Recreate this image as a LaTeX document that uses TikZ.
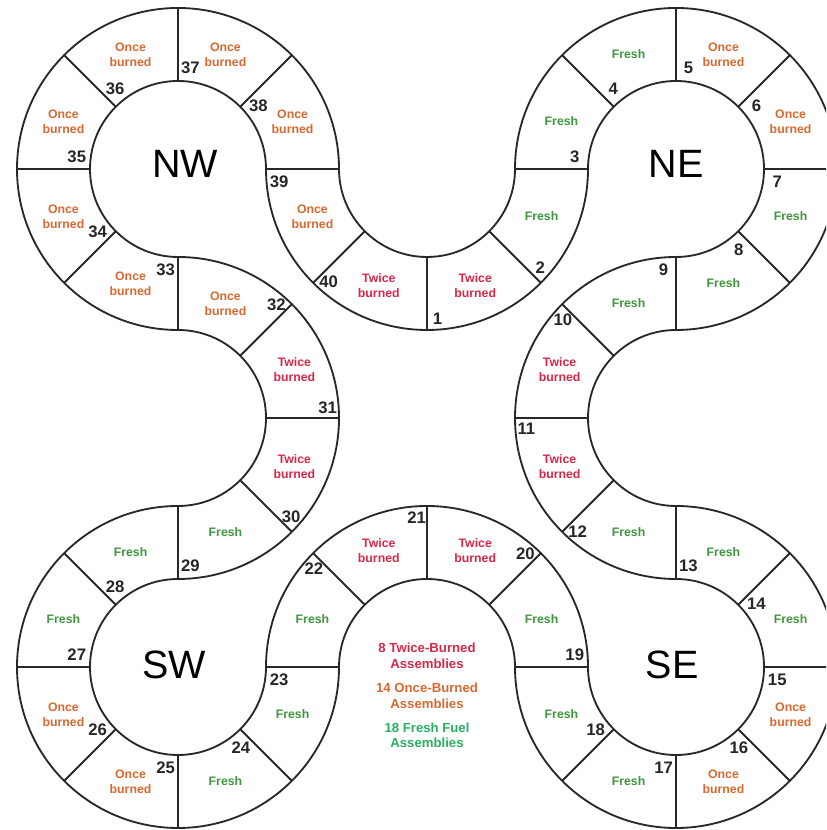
\documentclass[tikz,border=0pt]{standalone}
\usepackage{fontspec}
\setmainfont{Liberation Sans}
\usepackage{xcolor}
\usetikzlibrary{positioning}

\definecolor{twicecol}{RGB}{214,40,72}
\definecolor{oncecol}{RGB}{217,104,48}
\definecolor{freshcol}{RGB}{62,150,62}
\definecolor{legfresh}{RGB}{40,175,95}
\definecolor{ringline}{RGB}{40,40,40}

\def\rin{88}
\def\rout{161}

\begin{document}
\begin{tikzpicture}[x=0.02cm, y=0.02cm, line width=1.05pt,
    ring/.style={draw=ringline},
    tag/.style={font=\fontsize{9.5}{10}\selectfont\bfseries, text=black!85, inner sep=0pt},
    fuel/.style={font=\fontsize{7}{8.5}\selectfont\bfseries, align=center, inner sep=0pt},
    twicetxt/.style={fuel, text=twicecol},
    oncetxt/.style={fuel, text=oncecol},
    freshtxt/.style={fuel, text=freshcol},
    region/.style={font=\fontsize{22.5}{24}\selectfont, inner sep=0pt},
    legend/.style={font=\fontsize{7.5}{9}\selectfont\bfseries, align=center, inner sep=0pt}]

    \clip (0,0) rectangle (826,830);

    % ===================================================
    % 1. CENTRES OF THE EIGHT ARCS
    % ===================================================
    \coordinate (NW) at (178,661);
    \coordinate (TM) at (427,661);
    \coordinate (NE) at (676,661);
    \coordinate (LM) at (178,412);
    \coordinate (RM) at (676,412);
    \coordinate (SW) at (178,163);
    \coordinate (BM) at (427,163);
    \coordinate (SE) at (676,163);

    % ===================================================
    % 2. THE TWO EDGES OF THE RING
    % ===================================================
    % Outer edge of the corners (inner edge of the middle arcs)
    \draw[ring] ([shift={(-90:\rout)}]NW)
        arc[start angle=-90, end angle=-360, radius=\rout]
        arc[start angle=180, end angle=360, radius=\rin]
        arc[start angle=180, end angle=-90, radius=\rout]
        arc[start angle=90, end angle=270, radius=\rin]
        arc[start angle=90, end angle=-180, radius=\rout]
        arc[start angle=0, end angle=180, radius=\rin]
        arc[start angle=0, end angle=-270, radius=\rout]
        arc[start angle=-90, end angle=90, radius=\rin] -- cycle;

    % Inner edge of the corners (outer edge of the middle arcs)
    \draw[ring] ([shift={(-90:\rin)}]NW)
        arc[start angle=-90, end angle=-360, radius=\rin]
        arc[start angle=180, end angle=360, radius=\rout]
        arc[start angle=180, end angle=-90, radius=\rin]
        arc[start angle=90, end angle=270, radius=\rout]
        arc[start angle=90, end angle=-180, radius=\rin]
        arc[start angle=0, end angle=180, radius=\rout]
        arc[start angle=0, end angle=-270, radius=\rin]
        arc[start angle=-90, end angle=90, radius=\rout] -- cycle;

    % ===================================================
    % 3. DIVIDERS AND POSITION NUMBERS
    % ===================================================
    % Corner dividers: number next to the hole
    \foreach \c/\a/\k in {NE/180/3, NE/135/4, NE/90/5, NE/45/6, NE/0/7, NE/-45/8, NE/-90/9,
                         SE/90/13, SE/45/14, SE/0/15, SE/-45/16, SE/-90/17, SE/-135/18, SE/180/19,
                         SW/0/23, SW/-45/24, SW/-90/25, SW/-135/26, SW/180/27, SW/135/28, SW/90/29,
                         NW/-90/33, NW/-135/34, NW/180/35, NW/135/36, NW/90/37, NW/45/38, NW/0/39} {
        \coordinate (in\k) at ([shift={(\a:\rin)}]\c);
        \coordinate (out\k) at ([shift={(\a:\rout)}]\c);
        \draw[ring] (in\k) -- (out\k);
        \node[tag] (n\k) at ([shift={(\a-7:102)}]\c) {\k};
    }

    % Middle dividers: number on the outer edge
    \foreach \c/\a/\k in {TM/-135/40, TM/-90/1, TM/-45/2,
                         RM/135/10, RM/180/11, RM/225/12,
                         BM/45/20, BM/90/21, BM/135/22,
                         LM/-45/30, LM/0/31, LM/45/32} {
        \coordinate (in\k) at ([shift={(\a:\rin)}]\c);
        \coordinate (out\k) at ([shift={(\a:\rout)}]\c);
        \draw[ring] (in\k) -- (out\k);
        \node[tag] (n\k) at ([shift={(\a+4:150)}]\c) {\k};
    }

    % ===================================================
    % 4. FUEL IN EACH POSITION
    % ===================================================
    \foreach \c/\a/\k in {TM/-112.5/40, TM/-67.5/1, RM/157.5/10, RM/202.5/11,
                         BM/67.5/20, BM/112.5/21, LM/-22.5/30, LM/22.5/31}
        \node[twicetxt] (s\k) at ([shift={(\a:126)}]\c) {Twice\\burned};

    \foreach \c/\a/\k in {NE/67.5/5, NE/22.5/6, SE/-22.5/15, SE/-67.5/16,
                         SW/-112.5/25, SW/-157.5/26, LM/67.5/32,
                         NW/-112.5/33, NW/-157.5/34, NW/157.5/35, NW/112.5/36,
                         NW/67.5/37, NW/22.5/38, TM/-157.5/39}
        \node[oncetxt] (s\k) at ([shift={(\a:124)}]\c) {Once\\burned};

    \foreach \c/\a/\k in {TM/-22.5/2, NE/157.5/3, NE/112.5/4, NE/-22.5/7, NE/-67.5/8,
                         RM/112.5/9, RM/247.5/12, SE/67.5/13, SE/22.5/14, SE/-112.5/17,
                         SE/-157.5/18, BM/22.5/19, BM/157.5/22, SW/-22.5/23, SW/-67.5/24,
                         SW/157.5/27, SW/112.5/28, LM/-67.5/29}
        \node[freshtxt] (s\k) at ([shift={(\a:124)}]\c) {Fresh};

    % ===================================================
    % 5. QUADRANT NAMES AND LEGEND
    % ===================================================
    \node[region] (qNW) at ([shift={(7,5)}]NW) {NW};
    \node[region] (qNE) at ([shift={(0,5)}]NE) {NE};
    \node[region] (qSW) at ([shift={(-4,2)}]SW) {SW};
    \node[region] (qSE) at ([shift={(-4,2)}]SE) {SE};

    \node[legend, text=twicecol] (legTwice) at (427,174) {8 Twice-Burned\\Assemblies};
    \node[legend, text=oncecol, below=7pt of legTwice] (legOnce) {14 Once-Burned\\Assemblies};
    \node[legend, text=legfresh, below=7pt of legOnce] (legFresh) {18 Fresh Fuel\\Assemblies};

\end{tikzpicture}
\end{document}
